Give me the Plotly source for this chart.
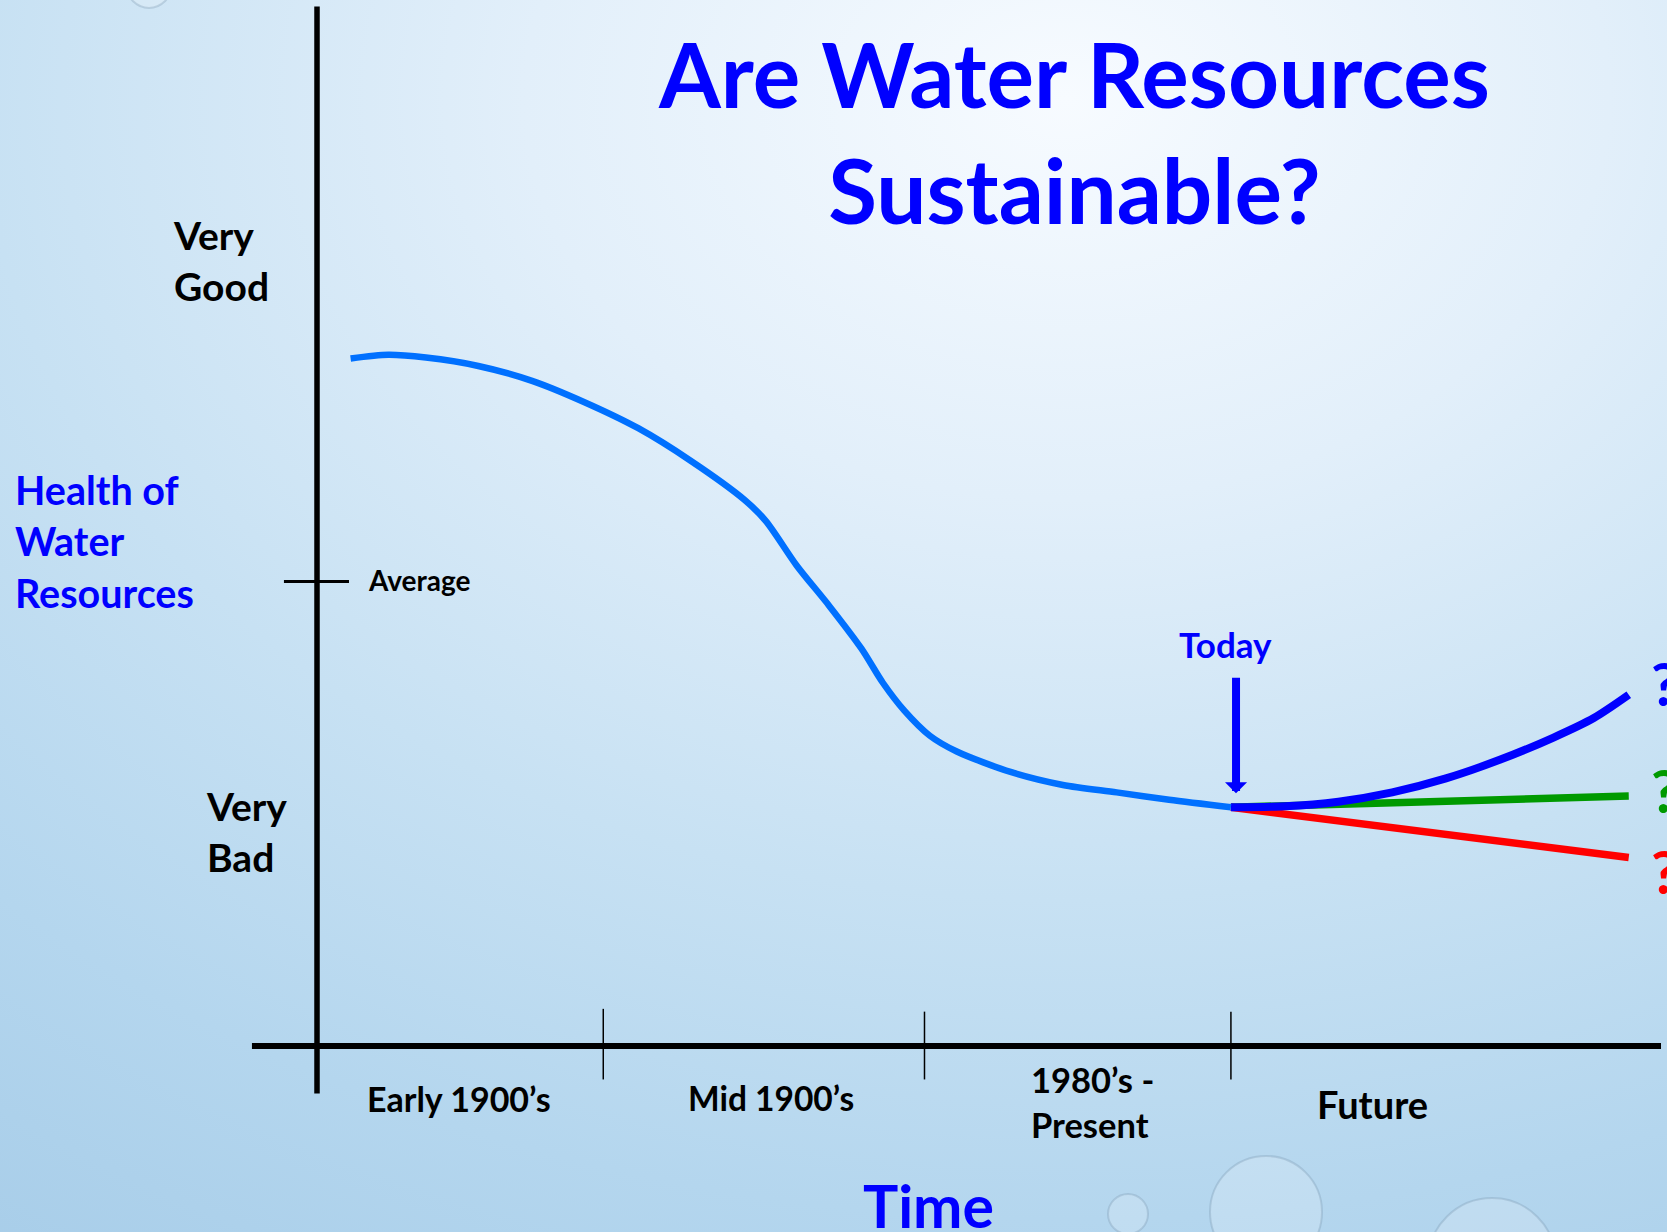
import base64
import plotly.graph_objects as go

# ---------------- data ----------------
# time index (0 = vertical axis, 100 = end of horizontal axis)
time_main = [2.5, 5.3, 8.1, 12.0, 16.0, 19.9, 23.9, 27.8, 31.8, 33.4, 35.7, 38.1,
             40.5, 42.1, 43.7, 45.6, 47.6, 51.6, 55.5, 59.5, 63.4, 68.0]
health_main = [7.40, 7.44, 7.41, 7.32, 7.16, 6.93, 6.65, 6.30, 5.88, 5.65, 5.17, 4.74,
               4.28, 3.91, 3.61, 3.34, 3.17, 2.95, 2.81, 2.73, 2.65, 2.57]

time_future_up = [68.0, 72.0, 76.0, 80.0, 84.0, 88.0, 92.0, 95.0, 97.6]
health_future_up = [2.57, 2.58, 2.63, 2.73, 2.88, 3.08, 3.32, 3.53, 3.78]

time_future_flat = [68.0, 97.6]
health_future_flat = [2.57, 2.69]

time_future_down = [68.0, 97.6]
health_future_down = [2.57, 2.03]

period_bounds = [21.3, 45.2, 68.0]
period_labels = ["Early 1900’s", "Mid 1900’s", "1980’s -<br>Present", "Future"]
period_label_x = [10.6, 33.8, 53.0, 78.5]

health_levels = {"Very<br>Good": 8.46, "Average": 5.0, "Very<br>Bad": 2.31}
today_x = 68.38

# ---------------- style ----------------
FONT = "Lato"
BLUE = "#0000FF"
LIGHT_BLUE = "#0070FF"
GREEN = "#009A00"
RED = "#FF0000"

fig = go.Figure()

fig.add_trace(go.Scatter(x=time_future_down, y=health_future_down, mode="lines",
                         line=dict(color=RED, width=7.5), hoverinfo="skip", showlegend=False))
fig.add_trace(go.Scatter(x=time_future_flat, y=health_future_flat, mode="lines",
                         line=dict(color=GREEN, width=7.5), hoverinfo="skip", showlegend=False))
fig.add_trace(go.Scatter(x=time_future_up, y=health_future_up, mode="lines",
                         line=dict(color=BLUE, width=8, shape="spline", smoothing=0.8),
                         hoverinfo="skip", showlegend=False))
fig.add_trace(go.Scatter(x=time_main, y=health_main, mode="lines",
                         line=dict(color=LIGHT_BLUE, width=6.5, shape="spline", smoothing=0.8),
                         hoverinfo="skip", showlegend=False))

shapes = []
# axes
shapes.append(dict(type="line", xref="x", yref="y", x0=0, x1=0, y0=11.19, y1=-0.51,
                   line=dict(color="black", width=5.5)))
shapes.append(dict(type="line", xref="x", yref="y", x0=-4.84, x1=100.0, y0=0, y1=0,
                   line=dict(color="black", width=6)))
# period ticks
for i, b in enumerate(period_bounds):
    top = 0.40 if i == 0 else 0.37
    shapes.append(dict(type="line", xref="x", yref="y", x0=b, x1=b, y0=top, y1=-0.36,
                       line=dict(color="black", width=1.5)))
# average tick
shapes.append(dict(type="line", xref="x", yref="y", x0=-2.46, x1=2.38, y0=5.0, y1=5.0,
                   line=dict(color="black", width=3)))

# decorative bubbles
bubble_line = "rgba(110,140,165,0.28)"
bubble_fill = "rgba(255,255,255,0.18)"
for (cx, cy, r) in [(1266, 1212, 56), (1128, 1214, 20), (1492, 1262, 64), (149, -14, 22)]:
    shapes.append(dict(type="circle", xref="paper", yref="paper",
                       x0=(cx - r) / 1667, x1=(cx + r) / 1667,
                       y0=1 - (cy + r) / 1232, y1=1 - (cy - r) / 1232,
                       line=dict(color=bubble_line, width=2), fillcolor=bubble_fill,
                       layer="below"))

annotations = []
# title
annotations.append(dict(text="Are Water Resources<br>Sustainable?", xref="x", yref="y",
                        x=56.36, y=9.84, showarrow=False, xanchor="center", yanchor="middle",
                        font=dict(family=FONT, size=89, color=BLUE, weight=700)))
# y labels
annotations.append(dict(text="Very<br>Good", xref="x", yref="y", x=-10.85, y=health_levels["Very<br>Good"],
                        showarrow=False, xanchor="left", yanchor="middle", align="left",
                        font=dict(family=FONT, size=39, color="black", weight=700)))
annotations.append(dict(text="Very<br>Bad", xref="x", yref="y", x=-8.40, y=health_levels["Very<br>Bad"],
                        showarrow=False, xanchor="left", yanchor="middle", align="left",
                        font=dict(family=FONT, size=39, color="black", weight=700)))
annotations.append(dict(text="Average", xref="x", yref="y", x=3.65, y=health_levels["Average"] + 0.02,
                        showarrow=False, xanchor="left", yanchor="middle",
                        font=dict(family=FONT, size=28, color="black", weight=700)))
annotations.append(dict(text="Health of<br>Water<br>Resources", xref="x", yref="y", x=-22.62, y=5.44,
                        showarrow=False, xanchor="left", yanchor="middle", align="left",
                        font=dict(family=FONT, size=39.5, color=BLUE, weight=700)))
# x labels
label_sizes = [34, 33.5, 34.5, 38]
for lab, lx, fs in zip(period_labels, period_label_x, label_sizes):
    if "Present" in lab:
        annotations.append(dict(text=lab, xref="x", yref="y", x=lx, y=-0.60, showarrow=False,
                                xanchor="left", yanchor="middle", align="left",
                                font=dict(family=FONT, size=fs, color="black", weight=700)))
    else:
        yy = -0.62 if lab == "Future" else -0.56
        annotations.append(dict(text=lab, xref="x", yref="y", x=lx, y=yy, showarrow=False,
                                xanchor="center", yanchor="middle",
                                font=dict(family=FONT, size=fs, color="black", weight=700)))
annotations.append(dict(text="Time", xref="x", yref="y", x=45.5, y=-1.72, showarrow=False,
                        xanchor="center", yanchor="middle",
                        font=dict(family=FONT, size=59, color=BLUE, weight=700)))
# today arrow and label
annotations.append(dict(text="Today", xref="x", yref="y", x=67.6, y=4.33, showarrow=False,
                        xanchor="center", yanchor="middle",
                        font=dict(family=FONT, size=35, color=BLUE, weight=700)))
annotations.append(dict(text="", xref="x", yref="y", x=today_x, y=2.72,
                        axref="x", ayref="y", ax=today_x, ay=3.98,
                        showarrow=True, arrowhead=1, arrowsize=0.46, arrowwidth=8,
                        arrowcolor=BLUE))
# question marks
for qy, qc in [(3.91, BLUE), (2.76, GREEN), (1.88, RED)]:
    annotations.append(dict(text="?", xref="x", yref="y", x=100.3, y=qy, showarrow=False,
                            xanchor="center", yanchor="middle",
                            font=dict(family=FONT, size=60, color=qc, weight=700)))

# background gradient as svg image
svg = (
    '<svg xmlns="http://www.w3.org/2000/svg" width="1667" height="1232" viewBox="0 0 1667 1232" '
    'preserveAspectRatio="none"><defs><radialGradient id="g" cx="0.64" cy="0.08" r="1.3">'
    '<stop offset="0" stop-color="#F7FBFF"/>'
    '<stop offset="0.25" stop-color="#E2EFFA"/>'
    '<stop offset="0.5" stop-color="#C7E1F3"/>'
    '<stop offset="0.7" stop-color="#B4D6EE"/>'
    '<stop offset="0.9" stop-color="#A6CCE8"/>'
    '<stop offset="1" stop-color="#A2CAE7"/>'
    '</radialGradient></defs><rect width="1667" height="1232" fill="url(#g)"/></svg>'
)
svg_uri = "data:image/svg+xml;base64," + base64.b64encode(svg.encode()).decode()

fig.update_layout(
    width=1667, height=1232,
    margin=dict(l=0, r=0, t=0, b=0),
    paper_bgcolor="#CFE5F5", plot_bgcolor="rgba(0,0,0,0)",
    xaxis=dict(range=[-23.586, 100.446], visible=False, fixedrange=True),
    yaxis=dict(range=[-2.002, 11.259], visible=False, fixedrange=True),
    shapes=shapes, annotations=annotations,
    images=[dict(source=svg_uri, xref="paper", yref="paper", x=0, y=1, sizex=1, sizey=1,
                 xanchor="left", yanchor="top", sizing="stretch", layer="below")],
    showlegend=False,
)

fig.write_html("out.html", config={"displayModeBar": False},
               post_script="document.body.style.margin='0';document.body.style.overflow='hidden';")
